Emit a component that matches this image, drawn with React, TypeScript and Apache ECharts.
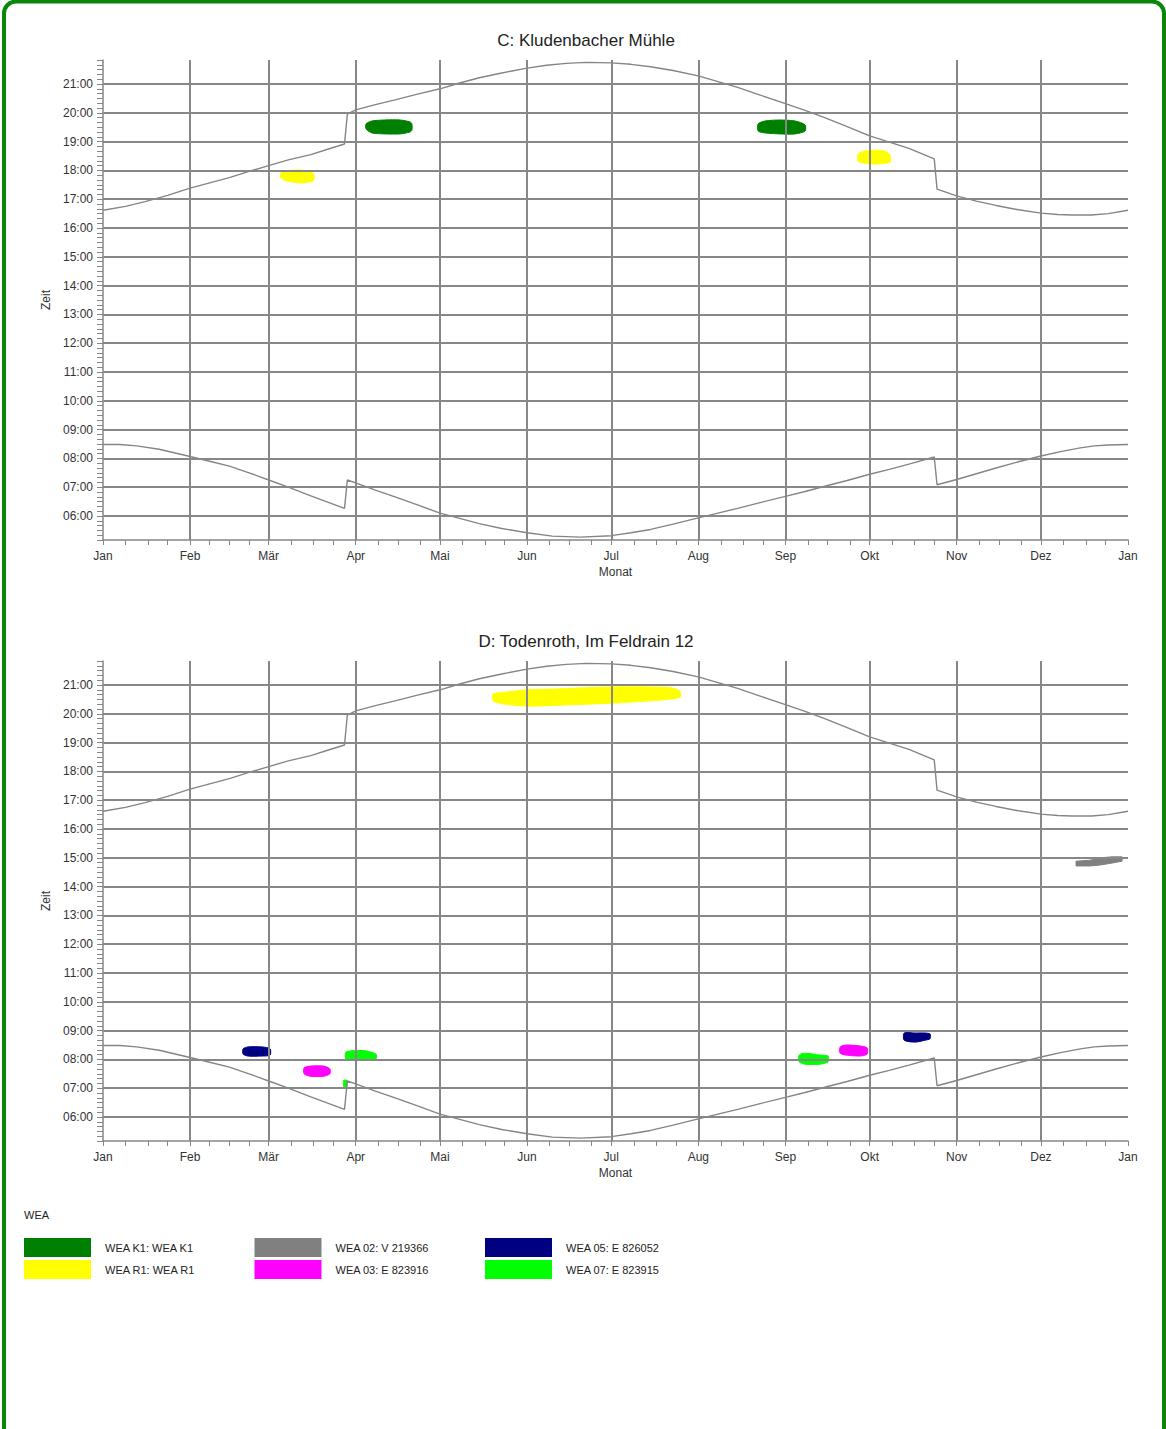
import { useEffect, useRef } from "react";
import * as echarts from "echarts";

// ---------- axes scaffolding ----------
const monthStarts = [0, 31, 59, 90, 120, 151, 181, 212, 243, 273, 304, 334, 365];
const monthLabels = ["Jan", "Feb", "Mär", "Apr", "Mai", "Jun", "Jul", "Aug", "Sep", "Okt", "Nov", "Dez", "Jan"];
const Y_MIN = 310; // 05:10 in minutes
const Y_MAX = 1310; // 21:50 in minutes

// ---------- sun curves: [day of year, minutes of day] ----------
const sunsetCurve = [
  [0, 997], [8, 1005], [15, 1015], [23, 1028], [31, 1043], [38, 1054], [45, 1065], [52, 1078],
  [59, 1090], [66, 1102], [74, 1113], [80, 1124], [86, 1135], [87, 1197], [90, 1206], [97, 1217],
  [104, 1227], [112, 1239], [120, 1250], [127, 1262], [134, 1273], [142, 1283], [151, 1293],
  [158, 1299], [165, 1303], [172, 1305], [181, 1304], [188, 1301], [195, 1296], [203, 1288],
  [212, 1277], [219, 1265], [226, 1253], [234, 1237], [243, 1219], [250, 1205], [257, 1190],
  [265, 1171], [273, 1152], [280, 1139], [287, 1126], [296, 1104], [297, 1041], [304, 1027],
  [311, 1016], [318, 1007], [326, 998], [334, 991], [340, 988], [345, 987], [352, 987],
  [358, 990], [365, 997],
];
const sunriseCurve = [
  [0, 509], [6, 509], [12, 506], [20, 499], [31, 484], [38, 474], [45, 464], [52, 450],
  [59, 435], [66, 420], [74, 402], [80, 389], [86, 376], [87, 435], [90, 429], [97, 414],
  [104, 400], [112, 383], [120, 366], [127, 355], [134, 344], [142, 334], [151, 325],
  [160, 318], [170, 316], [181, 319], [188, 325], [195, 332], [203, 343], [212, 356],
  [219, 366], [226, 376], [234, 388], [243, 401], [250, 411], [257, 422], [265, 434],
  [273, 447], [280, 457], [287, 468], [296, 483], [297, 425], [304, 436], [311, 448],
  [318, 460], [326, 473], [334, 485], [341, 494], [348, 502], [353, 506], [358, 508], [365, 509],
];

// ---------- shadow periods: [day, top minute, bottom minute] ----------
const k1SpringC = [[93.7, 1177, 1166], [95.8, 1183, 1158], [100.4, 1185, 1156], [105.8, 1185, 1156], [109.3, 1181, 1160], [110, 1177, 1164]];
const r1SpringC = [[63.4, 1075, 1064], [65.5, 1079, 1058], [70.2, 1081, 1054], [73.7, 1077, 1056], [75.1, 1072, 1060]];
const k1AutumnC = [[233.3, 1177, 1162], [235.8, 1183, 1158], [241.1, 1185, 1156], [246.4, 1183, 1156], [250, 1175, 1162]];
const r1AutumnC = [[268.9, 1114, 1099], [271, 1120, 1095], [274.9, 1122, 1093], [278.5, 1120, 1095], [280.3, 1112, 1097]];

const r1SummerD = [[138.9, 1241, 1227], [143.2, 1245, 1220], [151.4, 1250, 1216], [162.7, 1252, 1218], [180.6, 1256, 1222], [194.8, 1256, 1227], [202.6, 1254, 1231], [205.5, 1247, 1235]];
const w02WinterD = [[346.5, 893, 883], [351.5, 895, 883], [355.1, 900, 885], [359.3, 902, 889], [362.9, 902, 893]];
const w05FebD = [[49.9, 502, 491], [51.6, 506, 487], [56.6, 506, 487], [59.5, 502, 489]];
const w03MarD = [[71.6, 462, 450], [73.7, 466, 445], [78.7, 466, 445], [80.8, 460, 450]];
const w07AprD = [[86.5, 495, 481], [88.7, 498, 479], [93.3, 498, 479], [97.2, 491, 481]];
const w07DstD = [[85.7, 437, 423], [86.9, 437, 423]];
const w07SepD = [[247.9, 489, 475], [250, 493, 470], [255.3, 489, 470], [258.2, 487, 475]];
const w03SepD = [[262.5, 506, 493], [264.6, 510, 489], [269.6, 508, 487], [272.1, 504, 491]];
const w05OctD = [[285.3, 535, 520], [289.2, 535, 516], [292.7, 535, 520], [294.5, 533, 523]];

// ---------- legend ----------
const legendNames = ["WEA K1: WEA K1", "WEA R1: WEA R1", "WEA 02: V 219366", "WEA 03: E 823916", "WEA 05: E 826052", "WEA 07: E 823915"];
const legendColors = ["#008000", "#ffff00", "#808080", "#ff00ff", "#000080", "#00ff00"];

const chartTitles = ["C: Kludenbacher Mühle", "D: Todenroth, Im Feldrain 12"];

const FONT = "'Liberation Sans', Arial, sans-serif";
const GRID_COLOR = "#878787";

const dayCats = Array.from({ length: 366 }, (_, i) => String(i));
const minuteCats = Array.from({ length: Y_MAX - Y_MIN + 1 }, (_, i) => String(Y_MIN + i));
const tickDays = new Set<number>();
monthStarts.forEach((s, i) => {
  tickDays.add(s);
  if (i < 12) {
    const len = monthStarts[i + 1] - s;
    for (let k = 1; k < 4; k++) tickDays.add(Math.round(s + (k * len) / 4));
  }
});

const fmtTime = (m: number) => {
  const h = Math.floor(m / 60);
  const mm = m % 60;
  return (h < 10 ? "0" : "") + h + ":" + (mm < 10 ? "0" : "") + mm;
};

export default function App() {
  const ref = useRef<HTMLDivElement>(null);

  useEffect(() => {
    if (!ref.current) return;
    const chart = echarts.init(ref.current, null, { renderer: "svg" });

    const gridTops = [60, 661];
    const grids = gridTops.map((top) => ({ left: 103, top, width: 1025, height: 480 }));

    const xAxis: any[] = [];
    const yAxis: any[] = [];
    grids.forEach((_, g) => {
      xAxis.push({ type: "value", gridIndex: g, min: 0, max: 365, show: false });
      xAxis.push({
        type: "category",
        gridIndex: g,
        data: dayCats,
        boundaryGap: false,
        position: "bottom",
        z: 10,
        name: "Monat",
        nameLocation: "middle",
        nameGap: 26,
        nameTextStyle: { fontSize: 12, color: "#333", fontFamily: FONT },
        axisLine: { show: true, lineStyle: { color: GRID_COLOR, width: 1.5 } },
        axisTick: { show: true, interval: (i: number) => tickDays.has(i), length: 5, lineStyle: { color: GRID_COLOR, width: 1 } },
        axisLabel: {
          interval: (i: number) => monthStarts.includes(i),
          formatter: (v: string) => monthLabels[monthStarts.indexOf(Number(v))] ?? "",
          margin: 10,
          fontSize: 12,
          color: "#333",
          fontFamily: FONT,
        },
        splitLine: {
          show: true,
          interval: (i: number) => i > 0 && i < 365 && monthStarts.includes(i),
          lineStyle: { color: GRID_COLOR, width: 2 },
        },
      });
      yAxis.push({ type: "value", gridIndex: g, min: Y_MIN, max: Y_MAX, show: false });
      yAxis.push({
        type: "category",
        gridIndex: g,
        data: minuteCats,
        boundaryGap: false,
        position: "left",
        z: 10,
        name: "Zeit",
        nameLocation: "middle",
        nameGap: 50,
        nameTextStyle: { fontSize: 12, color: "#333", fontFamily: FONT },
        axisLine: { show: true, lineStyle: { color: GRID_COLOR, width: 1.5 } },
        axisTick: { show: true, interval: (i: number) => (Y_MIN + i) % 10 === 0, length: 6, lineStyle: { color: GRID_COLOR, width: 1 } },
        axisLabel: {
          interval: (i: number) => (Y_MIN + i) % 60 === 0,
          formatter: (v: string) => fmtTime(Number(v)),
          margin: 10,
          fontSize: 12,
          color: "#333",
          fontFamily: FONT,
        },
        splitLine: {
          show: true,
          interval: (i: number) => (Y_MIN + i) % 60 === 0,
          lineStyle: { color: GRID_COLOR, width: 2 },
        },
      });
    });

    const blob = (g: number, color: string, sections: number[][], smooth = 0.25) => ({
      type: "custom",
      xAxisIndex: g * 2,
      yAxisIndex: g * 2,
      z: 2,
      silent: true,
      data: [[sections[0][0], sections[0][1]]],
      renderItem: (_p: any, api: any) => {
        const top = sections.map((s) => api.coord([s[0], s[1]]));
        const bottom = sections.slice().reverse().map((s) => api.coord([s[0], s[2]]));
        return {
          type: "polygon",
          shape: { points: top.concat(bottom), smooth },
          style: { fill: color, stroke: color, lineWidth: 1 },
        };
      },
    });

    const sunLine = (g: number, data: number[][]) => ({
      type: "line",
      xAxisIndex: g * 2,
      yAxisIndex: g * 2,
      data,
      symbol: "none",
      z: 3,
      silent: true,
      lineStyle: { color: "#858585", width: 1.4 },
    });

    const series: any[] = [
      blob(0, legendColors[0], k1SpringC),
      blob(0, legendColors[1], r1SpringC),
      blob(0, legendColors[0], k1AutumnC),
      blob(0, legendColors[1], r1AutumnC),
      blob(1, legendColors[1], r1SummerD),
      blob(1, legendColors[2], w02WinterD, 0),
      blob(1, legendColors[4], w05FebD),
      blob(1, legendColors[3], w03MarD),
      blob(1, legendColors[5], w07AprD),
      blob(1, legendColors[5], w07DstD, 0),
      blob(1, legendColors[5], w07SepD),
      blob(1, legendColors[3], w03SepD),
      blob(1, legendColors[4], w05OctD),
      sunLine(0, sunsetCurve),
      sunLine(0, sunriseCurve),
      sunLine(1, sunsetCurve),
      sunLine(1, sunriseCurve),
    ];

    const graphic: any[] = [
      {
        type: "rect",
        shape: { x: 4, y: 1.5, width: 1160, height: 1500, r: 12 },
        style: { fill: "none", stroke: "#0a870a", lineWidth: 4 },
        silent: true,
      },
      ...chartTitles.map((t, i) => ({
        type: "text",
        x: 586,
        y: gridTops[i] - 20,
        style: { text: t, fontSize: 17, fontFamily: FONT, fill: "#222", textAlign: "center", textVerticalAlign: "middle" },
      })),
      {
        type: "text",
        x: 24,
        y: 1215,
        style: { text: "WEA", fontSize: 11, fontFamily: FONT, fill: "#222", textVerticalAlign: "middle" },
      },
    ];
    legendNames.forEach((name, i) => {
      const col = Math.floor(i / 2);
      const row = i % 2;
      const x = 24 + col * 230.5;
      const y = 1238 + row * 22;
      graphic.push({ type: "rect", shape: { x, y, width: 67, height: 19 }, style: { fill: legendColors[i] }, silent: true });
      graphic.push({
        type: "text",
        x: x + 81,
        y: y + 10,
        style: { text: name, fontSize: 11, fontFamily: FONT, fill: "#222", textVerticalAlign: "middle" },
      });
    });

    chart.setOption({
      animation: false,
      backgroundColor: "#ffffff",
      textStyle: { fontFamily: FONT },
      grid: grids,
      xAxis,
      yAxis,
      series,
      graphic,
    });

    return () => chart.dispose();
  }, []);

  return <div ref={ref} style={{ position: "absolute", left: 0, top: 0, width: 1166, height: 1429 }} />;
}
